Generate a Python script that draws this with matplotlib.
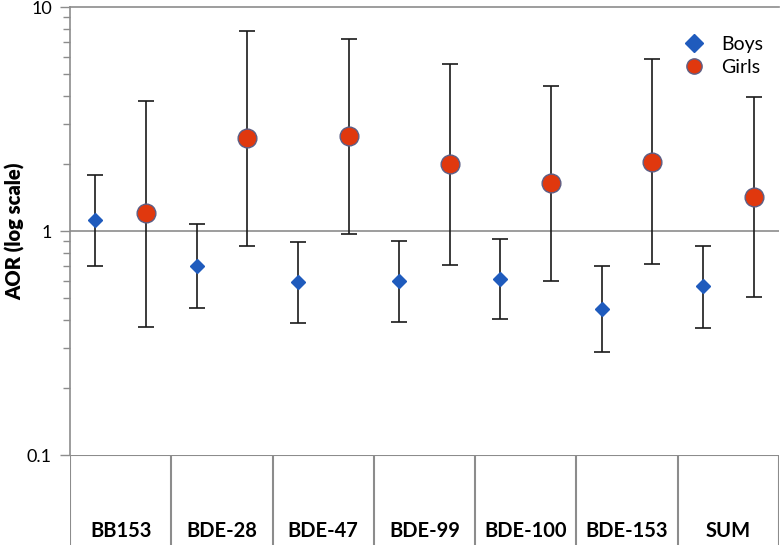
import matplotlib.pyplot as plt
from matplotlib.ticker import LogLocator, NullFormatter, FixedLocator, FixedFormatter

plt.rcParams['font.family'] = ['Lato', 'DejaVu Sans']

compounds = ["BB153", "BDE-28", "BDE-47", "BDE-99", "BDE-100", "BDE-153", "SUM"]

boys_aor = [1.12, 0.70, 0.59, 0.60, 0.61, 0.45, 0.57]
boys_low = [0.70, 0.453, 0.39, 0.393, 0.403, 0.288, 0.37]
boys_high = [1.78, 1.07, 0.89, 0.905, 0.92, 0.70, 0.86]

girls_aor = [1.20, 2.59, 2.65, 1.99, 1.63, 2.04, 1.42]
girls_low = [0.373, 0.855, 0.97, 0.707, 0.596, 0.71, 0.51]
girls_high = [3.79, 7.8, 7.21, 5.56, 4.44, 5.84, 3.98]

W, H = 780, 545
fig = plt.figure(figsize=(7.8, 5.45), dpi=100)

# main log axes (10 at y=7px, 0.1 at y=455px)
ax = fig.add_axes([70 / W, 1 - 455 / H, 709 / W, 448 / H])
# category strip below
tab = fig.add_axes([70 / W, 0, 709 / W, 90 / H])

grey = '#8c8c8c'
xs = list(range(len(compounds)))
xb = [x - 0.25 for x in xs]
xg = [x + 0.25 for x in xs]

ax.set_yscale('log')
ax.set_ylim(0.1, 10)
ax.set_xlim(-0.5, len(compounds) - 0.5)

ax.errorbar(xb, boys_aor,
            yerr=[[a - l for a, l in zip(boys_aor, boys_low)],
                  [h - a for a, h in zip(boys_aor, boys_high)]],
            fmt='none', ecolor='#1a1a1a', elinewidth=1.2, capsize=6, capthick=1.2, zorder=2)
ax.errorbar(xg, girls_aor,
            yerr=[[a - l for a, l in zip(girls_aor, girls_low)],
                  [h - a for a, h in zip(girls_aor, girls_high)]],
            fmt='none', ecolor='#1a1a1a', elinewidth=1.2, capsize=6, capthick=1.2, zorder=2)
ax.plot(xb, boys_aor, linestyle='none', marker='D', markersize=7, color='#1f5bbd',
        markeredgecolor='#1f5bbd', label='Boys', zorder=3)
ax.plot(xg, girls_aor, linestyle='none', marker='o', markersize=13.5, color='#e0380e',
        markeredgecolor='#5d5f86', markeredgewidth=1, label='Girls', zorder=3)

ax.axhline(1, color=grey, lw=1.2, zorder=1)
for s in ['right', 'bottom']:
    ax.spines[s].set_visible(False)
ax.spines['left'].set_color(grey)
ax.spines['top'].set_color(grey)
ax.spines['left'].set_linewidth(1.2)
ax.spines['top'].set_linewidth(1.2)

ax.yaxis.set_major_locator(FixedLocator([0.1, 1, 10]))
ax.yaxis.set_major_formatter(FixedFormatter(['0.1', '1', '10']))
ax.yaxis.set_minor_locator(LogLocator(base=10, subs=range(2, 10)))
ax.yaxis.set_minor_formatter(NullFormatter())
ax.tick_params(axis='y', which='major', length=7, width=1, color=grey, labelsize=13, pad=6)
ax.tick_params(axis='y', which='minor', length=5, width=1, color=grey)
ax.set_xticks([])
fig.text(15 / W, 1 - 231 / H, 'AOR (log scale)', rotation=90, ha='center', va='center',
         fontsize=14.5, fontweight='heavy')

leg = ax.legend(loc='upper right', bbox_to_anchor=(1.0, 0.97), frameon=False, fontsize=14,
                handletextpad=0.9, labelspacing=0.3, borderpad=0.3, handlelength=1.0)
leg.legend_handles[0].set_markersize(9.5)
leg.legend_handles[1].set_markersize(11)

# category strip
tab.set_xlim(-0.5, len(compounds) - 0.5)
tab.set_ylim(0, 1)
tab.axis('off')
tab.axhline(1, color=grey, lw=1.5)
tab.vlines([x - 0.5 for x in xs] + [len(compounds) - 0.5], 0, 1, color=grey, lw=1.5)
for x, name in zip(xs, compounds):
    tab.text(x, 0.16, name, ha='center', va='center', fontsize=14.5, fontweight='bold')

fig.savefig('out.png', dpi=100)
